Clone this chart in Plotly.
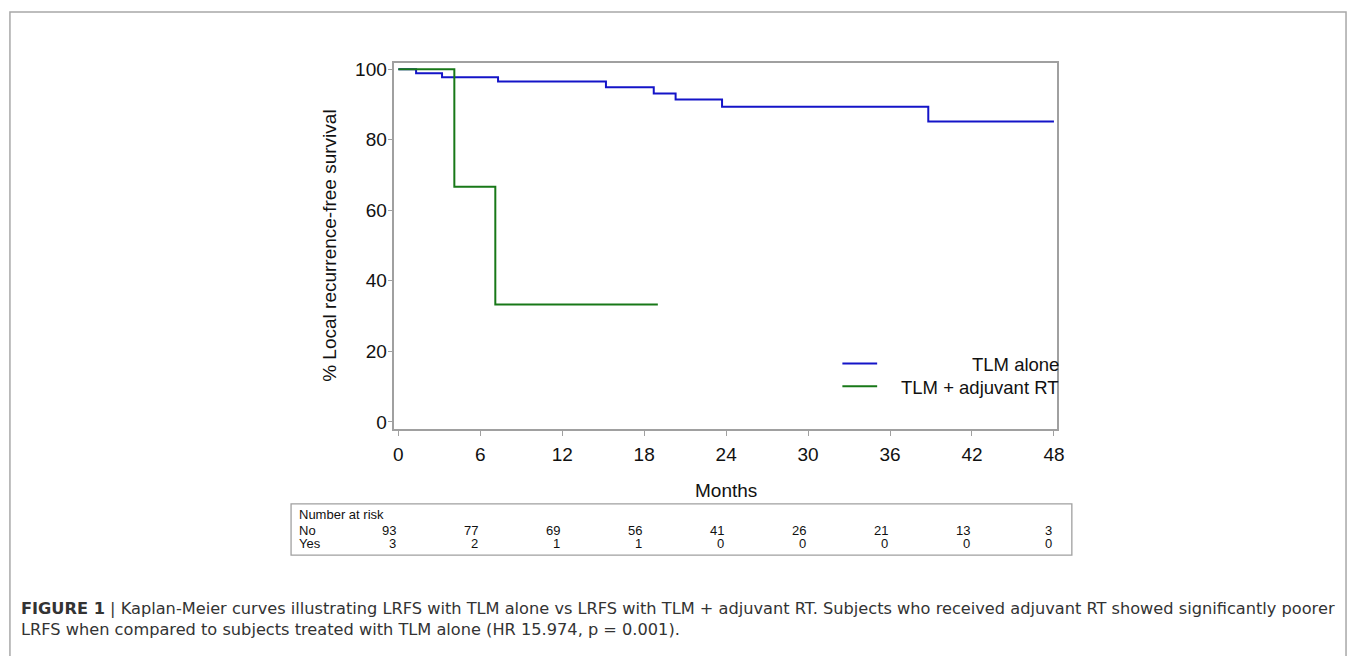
import plotly.graph_objects as go

# ---- data ----
tlm_months = [0, 1.3, 3.2, 7.3, 15.2, 18.7, 20.3, 23.7, 38.8, 48]
tlm_surv = [100, 98.9, 97.7, 96.5, 94.9, 93.1, 91.4, 89.4, 85.2, 85.2]
rt_months = [0, 4.1, 7.1, 19.0]
rt_surv = [100, 66.7, 33.3, 33.3]

x_ticks = [0, 6, 12, 18, 24, 30, 36, 42, 48]
y_ticks = [0, 20, 40, 60, 80, 100]
risk_times = [0, 6, 12, 18, 24, 30, 36, 42, 48]
risk_no = [93, 77, 69, 56, 41, 26, 21, 13, 3]
risk_yes = [3, 2, 1, 1, 0, 0, 0, 0, 0]

series_names = ["TLM alone", "TLM + adjuvant RT"]
series_colors = ["#1414c8", "#187818"]

W, H = 1357, 656
FONT = "Liberation Sans, Arial, sans-serif"
GREY = "#a0a0a0"

def px(x):
    return x / W

def py(y):
    return 1 - y / H

fig = go.Figure()
fig.add_trace(go.Scatter(x=tlm_months, y=tlm_surv, mode="lines", line_shape="hv",
                         line=dict(color=series_colors[0], width=2), name=series_names[0],
                         showlegend=False))
fig.add_trace(go.Scatter(x=rt_months, y=rt_surv, mode="lines", line_shape="hv",
                         line=dict(color=series_colors[1], width=2), name=series_names[1],
                         showlegend=False))

axis_common = dict(showgrid=False, zeroline=False, showline=True, linecolor=GREY,
                   linewidth=1.5, mirror=True, ticks="outside", tickcolor=GREY,
                   ticklen=5, tickwidth=1.2,
                   tickfont=dict(family=FONT, size=19, color="#111"))

fig.update_layout(
    width=W, height=H,
    margin=dict(l=0, r=0, t=0, b=0),
    paper_bgcolor="white", plot_bgcolor="white",
    xaxis=dict(domain=[px(396), px(1063)], range=[-0.29, 48.22],
               tickvals=x_ticks, ticklabelstandoff=3, **axis_common),
    yaxis=dict(domain=[py(430), py(60)], range=[-1.96, 101.7],
               tickvals=y_ticks, ticklabelstandoff=-3, **axis_common),
    showlegend=False,
)

shapes = []
annotations = []

# outer figure frame
shapes.append(dict(type="rect", xref="paper", yref="paper",
                   x0=px(9), x1=px(1354), y0=-0.05, y1=py(8),
                   line=dict(color="#a8a8a8", width=1.5)))

# axis titles
annotations.append(dict(text="% Local recurrence-free survival", xref="paper", yref="paper",
                        x=px(330), y=py(245), textangle=-90, showarrow=False,
                        xanchor="center", yanchor="middle",
                        font=dict(family=FONT, size=19, color="#111")))
annotations.append(dict(text="Months", xref="paper", yref="paper",
                        x=px(730), y=py(492), showarrow=False,
                        xanchor="center", yanchor="middle",
                        font=dict(family=FONT, size=19, color="#111")))

# legend (manual, right-aligned text like original)
for i, (name, col) in enumerate(zip(series_names, series_colors)):
    yy = 364 + i * 23
    shapes.append(dict(type="line", xref="paper", yref="paper",
                       x0=px(847), x1=px(882), y0=py(yy), y1=py(yy),
                       line=dict(color=col, width=2)))
    annotations.append(dict(text=name, xref="paper", yref="paper",
                            x=px(1060), y=py(yy + 1), showarrow=False,
                            xanchor="right", yanchor="middle", xshift=7,
                            font=dict(family=FONT, size=18.5, color="#111")))

# number-at-risk table
shapes.append(dict(type="rect", xref="paper", yref="paper",
                   x0=px(292), x1=px(1078), y0=py(558), y1=py(506),
                   line=dict(color=GREY, width=1.3)))
annotations.append(dict(text="Number at risk", xref="paper", yref="paper",
                        x=px(298), y=py(517), showarrow=False,
                        xanchor="left", yanchor="middle",
                        font=dict(family=FONT, size=13, color="#111")))
for lab, yy in (("No", 533), ("Yes", 546)):
    annotations.append(dict(text=lab, xref="paper", yref="paper",
                            x=px(298), y=py(yy), showarrow=False,
                            xanchor="left", yanchor="middle",
                            font=dict(family=FONT, size=13, color="#111")))
for t, n_no, n_yes in zip(risk_times, risk_no, risk_yes):
    for val, yy in ((n_no, 533), (n_yes, 546)):
        annotations.append(dict(text=str(val), xref="x", yref="paper",
                                x=t, y=py(yy), showarrow=False,
                                xanchor="right", yanchor="middle", xshift=0,
                                font=dict(family=FONT, size=13, color="#111")))

# caption (single two-line text)
CAP_FONT = "DejaVu Sans, Liberation Sans, sans-serif"
annotations.append(dict(
    text=("<b>FIGURE 1</b> | Kaplan-Meier curves illustrating LRFS with TLM alone vs LRFS with TLM "
          "+ adjuvant RT. Subjects who received adjuvant RT showed significantly poorer<br>"
          "LRFS when compared to subjects treated with TLM alone (HR 15.974, p = 0.001)."),
    xref="paper", yref="paper", x=px(18), y=py(623), showarrow=False,
    xanchor="left", yanchor="middle", align="left",
    font=dict(family=CAP_FONT, size=16.2, color="#333")))

fig.update_layout(shapes=shapes, annotations=annotations)
fig.write_html("out.html", config={"displayModeBar": False},
               post_script="document.body.style.margin='0';document.body.style.overflow='hidden';")
